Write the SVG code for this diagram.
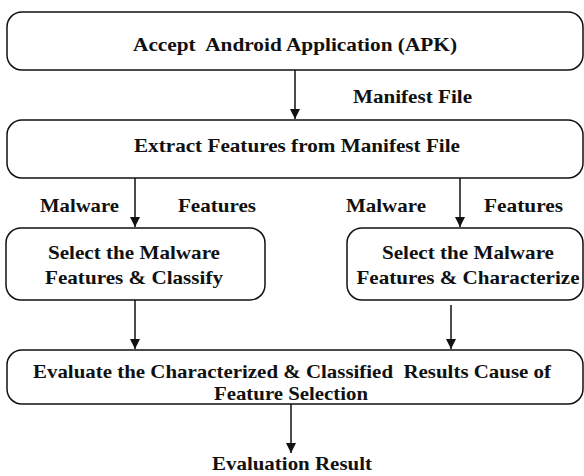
<svg xmlns="http://www.w3.org/2000/svg" width="584" height="476" viewBox="0 0 584 476">
  <style>
    .box { fill: #ffffff; stroke: #111111; stroke-width: 1.5; }
    .lbl { font-family: 'Liberation Serif', serif; font-weight: bold; font-size: 19px; fill: #111111; white-space: pre; }
    .mid { text-anchor: middle; }
    .edge { stroke: #111111; stroke-width: 1.5; fill: none; marker-end: url(#arrow); }
  </style>
  <defs>
    <marker id="arrow" viewBox="0 0 10 10" refX="10" refY="5" markerWidth="11" markerHeight="10" markerUnits="userSpaceOnUse" orient="auto">
      <path d="M0,0 L10,5 L0,10 z" fill="#111111"/>
    </marker>
  </defs>
  <rect width="584" height="476" fill="#ffffff"/>

  <g id="connectors">
    <line class="edge" x1="295" y1="70" x2="295" y2="119"/>
    <line class="edge" x1="135" y1="178" x2="135" y2="227"/>
    <line class="edge" x1="460" y1="178" x2="460" y2="227"/>
    <line class="edge" x1="135" y1="300" x2="135" y2="349"/>
    <line class="edge" x1="451" y1="305" x2="451" y2="349"/>
    <line class="edge" x1="291" y1="404" x2="291" y2="453"/>
    <text class="lbl" x="353" y="103" textLength="119" lengthAdjust="spacingAndGlyphs">Manifest File</text>
    <text class="lbl" x="40" y="212" textLength="79" lengthAdjust="spacingAndGlyphs">Malware</text>
    <text class="lbl" x="178" y="212" textLength="78" lengthAdjust="spacingAndGlyphs">Features</text>
    <text class="lbl" x="346" y="212" textLength="80" lengthAdjust="spacingAndGlyphs">Malware</text>
    <text class="lbl" x="484" y="212" textLength="79" lengthAdjust="spacingAndGlyphs">Features</text>
    <text class="lbl mid" x="292" y="470" textLength="160" lengthAdjust="spacingAndGlyphs">Evaluation Result</text>
  </g>

  <g id="accept-apk">
    <rect class="box" x="7" y="12" width="576" height="58" rx="15"/>
    <text class="lbl mid" x="295" y="51" textLength="324" lengthAdjust="spacingAndGlyphs">Accept  Android Application (APK)</text>
  </g>

  <g id="extract-features">
    <rect class="box" x="7" y="120" width="576" height="58" rx="15"/>
    <text class="lbl mid" x="297" y="152" textLength="326" lengthAdjust="spacingAndGlyphs">Extract Features from Manifest File</text>
  </g>

  <g id="select-classify">
    <rect class="box" x="6" y="228" width="259" height="72" rx="15"/>
    <text class="lbl mid" x="134" y="259" textLength="172" lengthAdjust="spacingAndGlyphs">Select the Malware</text>
    <text class="lbl mid" x="134" y="284" textLength="178" lengthAdjust="spacingAndGlyphs">Features &amp; Classify</text>
  </g>

  <g id="select-characterize">
    <rect class="box" x="347" y="228" width="236" height="72" rx="15"/>
    <text class="lbl mid" x="468" y="259" textLength="172" lengthAdjust="spacingAndGlyphs">Select the Malware</text>
    <text class="lbl mid" x="468" y="284" textLength="223" lengthAdjust="spacingAndGlyphs">Features &amp; Characterize</text>
  </g>

  <g id="evaluate">
    <rect class="box" x="7" y="350" width="576" height="54" rx="15"/>
    <text class="lbl mid" x="292" y="378" textLength="518" lengthAdjust="spacingAndGlyphs">Evaluate the Characterized &amp; Classified  Results Cause of</text>
    <text class="lbl mid" x="291" y="400" textLength="154" lengthAdjust="spacingAndGlyphs">Feature Selection</text>
  </g>
</svg>
